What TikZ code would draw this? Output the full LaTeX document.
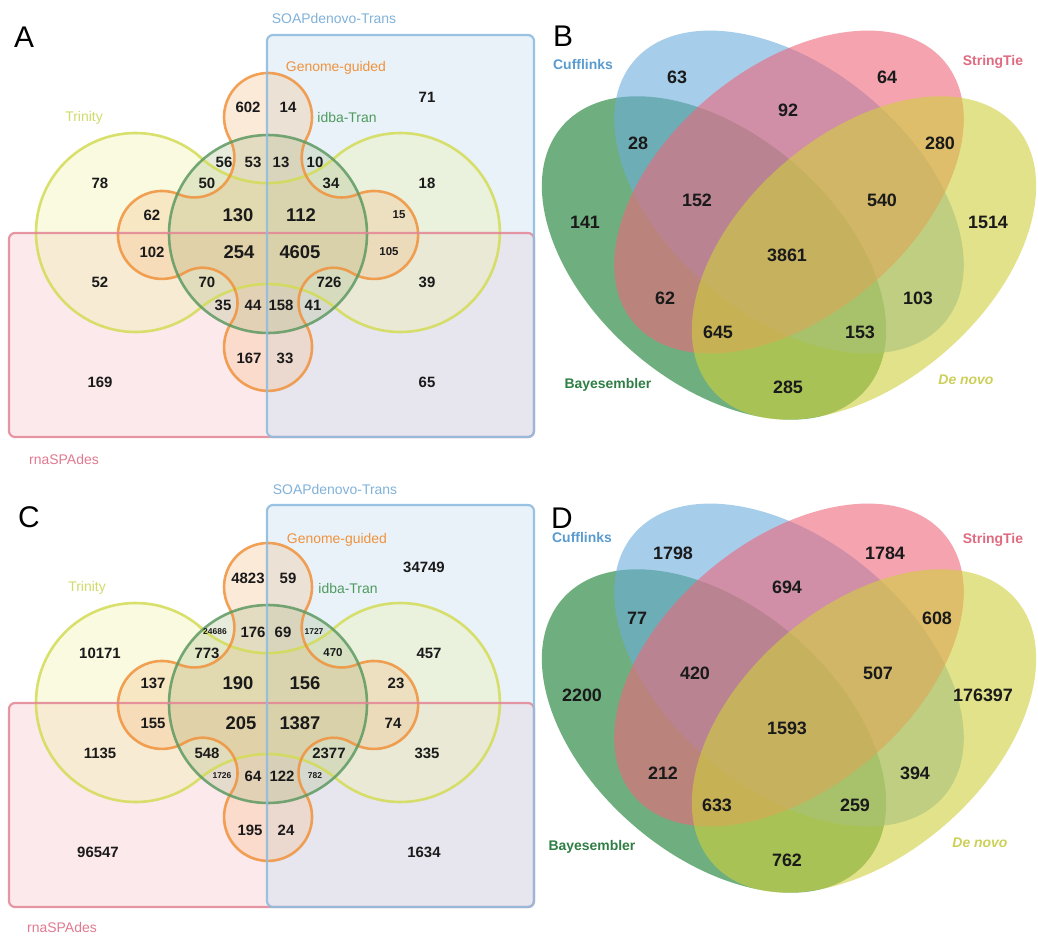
\documentclass[tikz,border=0pt]{standalone}
\usepackage{fontspec}
\setmainfont{Liberation Sans}
\definecolor{numc}{HTML}{1A1A1A}
\definecolor{trinline}{HTML}{D3DC55}
\definecolor{trinfill}{HTML}{EEF0A0}
\definecolor{genline}{HTML}{F0923C}
\definecolor{genfill}{HTML}{F7B77A}
\definecolor{idbaline}{HTML}{5E9A62}
\definecolor{idbafill}{HTML}{A8B880}
\definecolor{soapline}{HTML}{90BCDF}
\definecolor{soapfill}{HTML}{CFE3F3}
\definecolor{rnaline}{HTML}{E38595}
\definecolor{rnafill}{HTML}{F9D0D6}
\definecolor{soaptext}{HTML}{80B2DA}
\definecolor{trintext}{HTML}{D2DA6A}
\definecolor{idbatext}{HTML}{4E9A5C}
\definecolor{rnatext}{HTML}{E07A90}
\definecolor{cuffc}{HTML}{6CACDC}
\definecolor{strc}{HTML}{ED677A}
\definecolor{bayc}{HTML}{0F7B2A}
\definecolor{novoc}{HTML}{D0D03C}
\definecolor{cufftext}{HTML}{5A9BD0}
\definecolor{strtext}{HTML}{E06A80}
\definecolor{baytext}{HTML}{2F7F45}
\definecolor{novotext}{HTML}{CCD058}

% five-set layout: two quadrant boxes, the Trinity dumbbell,
% the four-lobed Genome-guided outline and the idba-Tran circle
\newcommand{\trinitypath}{(135.5,232.5) ++(-48.6:99.5)
  arc[start angle=-48.6, end angle=-309.8, radius=99.5]
  arc[start angle=230.2, end angle=309.8, radius=107.4]
  arc[start angle=129.8, end angle=-131.4, radius=99.5]
  arc[start angle=48.6, end angle=131.4, radius=101] -- cycle}
\newcommand{\genomepath}{(268,117) ++(28.8:44)
  arc[start angle=28.8, end angle=-208.8, radius=44]
  arc[start angle=-28.8, end angle=112.7, radius=40]
  arc[start angle=292.7, end angle=59.1, radius=44]
  arc[start angle=-120.9, end angle=34.0, radius=35]
  arc[start angle=214.0, end angle=-34.0, radius=44]
  arc[start angle=146.0, end angle=300.9, radius=35]
  arc[start angle=120.9, end angle=-112.7, radius=44]
  arc[start angle=67.3, end angle=208.8, radius=40] -- cycle}
\newcommand{\fivesetshapes}{%
  \fill[rnafill, fill opacity=0.45, rounded corners=6] (9,233) rectangle (534,437);
  \fill[soapfill, fill opacity=0.45, rounded corners=6] (267,35) rectangle (534,437);
  \fill[trinfill, fill opacity=0.32] \trinitypath;
  \fill[genfill, fill opacity=0.28] \genomepath;
  \fill[idbafill, fill opacity=0.28] (268,234) circle[radius=99];
  \draw[trinline, line width=2.6pt, draw opacity=0.85] \trinitypath;
  \draw[genline, line width=2.6pt, draw opacity=0.85] \genomepath;
  \draw[idbaline, line width=2.6pt, draw opacity=0.85] (268,234) circle[radius=99];
  \draw[rnaline, line width=2.2pt, draw opacity=0.85, rounded corners=6] (9,233) rectangle (534,437);
  \draw[soapline, line width=2.2pt, draw opacity=0.9, rounded corners=6] (267,35) rectangle (534,437);
}

% four-ellipse layout
\newcommand{\fourellipses}{%
  \fill[bayc, fill opacity=0.6, rotate around={-41:(714,258)}] (714,258) ellipse[x radius=201, y radius=124];
  \fill[cuffc, fill opacity=0.6, rotate around={-40:(789,192)}] (789,192) ellipse[x radius=203, y radius=124];
  \fill[strc, fill opacity=0.6, rotate around={40:(789,192)}] (789,192) ellipse[x radius=203, y radius=124];
  \fill[novoc, fill opacity=0.6, rotate around={41:(864,258)}] (864,258) ellipse[x radius=201, y radius=124];
}

\begin{document}
\begin{tikzpicture}[x=1bp, y=-1bp,
  num/.style={font=\fontsize{15}{15}\selectfont\bfseries, text=numc, inner sep=0pt},
  numbig/.style={font=\fontsize{18.5}{18.5}\selectfont\bfseries, text=numc, inner sep=0pt},
  numsmall/.style={font=\fontsize{11.5}{11.5}\selectfont\bfseries, text=numc, inner sep=0pt},
  numtiny/.style={font=\fontsize{8.5}{8.5}\selectfont\bfseries, text=numc, inner sep=0pt},
  bnum/.style={font=\fontsize{18}{18}\selectfont\bfseries, text=numc, inner sep=0pt},
  setlabel/.style={font=\fontsize{14}{14}\selectfont, inner sep=0pt},
  ellabel/.style={font=\fontsize{14}{14}\selectfont\bfseries, inner sep=0pt},
  panel/.style={font=\fontsize{30}{30}\selectfont, text=black, inner sep=0pt}]

\fill[white] (0,0) rectangle (1038,937);
\useasboundingbox (0,0) rectangle (1038,937);

% ---------------- panel A ----------------
\fivesetshapes
\node[panel] (a-letter) at (24,37) {A};
\node[setlabel, text=soaptext] (a-soap) at (334,19) {SOAPdenovo-Trans};
\node[setlabel, text=genline] (a-gen) at (336,68) {Genome-guided};
\node[setlabel, text=trintext] (a-trin) at (84,118) {Trinity};
\node[setlabel, text=idbatext] (a-idba) at (347,118) {idba-Tran};
\node[setlabel, text=rnatext] (a-rna) at (64,460) {rnaSPAdes};

\node[num] (a1) at (248,107) {602};
\node[num] (a2) at (288,107) {14};
\node[num] (a3) at (427,97) {71};
\node[num] (a4) at (224,162) {56};
\node[num] (a5) at (253,162) {53};
\node[num] (a6) at (281,162) {13};
\node[num] (a7) at (315,162) {10};
\node[num] (a8) at (100,183) {78};
\node[num] (a9) at (207,183) {50};
\node[num] (a10) at (331,183) {34};
\node[num] (a11) at (427,183) {18};
\node[num] (a12) at (152,215) {62};
\node[numbig] (a13) at (238,215) {130};
\node[numbig] (a14) at (301,215) {112};
\node[numsmall] (a15) at (399,215) {15};
\node[num] (a16) at (152,252) {102};
\node[numbig] (a17) at (239,252) {254};
\node[numbig] (a18) at (300,252) {4605};
\node[numsmall] (a19) at (389,252) {105};
\node[num] (a20) at (100,282) {52};
\node[num] (a21) at (207,282) {70};
\node[num] (a22) at (329,282) {726};
\node[num] (a23) at (427,282) {39};
\node[num] (a24) at (223,305) {35};
\node[num] (a25) at (253,305) {44};
\node[num] (a26) at (281,305) {158};
\node[num] (a27) at (313,305) {41};
\node[num] (a28) at (249,358) {167};
\node[num] (a29) at (285,358) {33};
\node[num] (a30) at (100,382) {169};
\node[num] (a31) at (427,382) {65};

% ---------------- panel C ----------------
\begin{scope}[shift={(0,470)}]
\fivesetshapes
\end{scope}
\node[panel] (c-letter) at (29,517) {C};
\node[setlabel, text=soaptext] (c-soap) at (335,490) {SOAPdenovo-Trans};
\node[setlabel, text=genline] (c-gen) at (337,540) {Genome-guided};
\node[setlabel, text=trintext] (c-trin) at (87,588) {Trinity};
\node[setlabel, text=idbatext] (c-idba) at (348,589) {idba-Tran};
\node[setlabel, text=rnatext] (c-rna) at (62,928) {rnaSPAdes};

\node[num] (c1) at (248,578) {4823};
\node[num] (c2) at (288,578) {59};
\node[num] (c3) at (424,567) {34749};
\node[numtiny] (c4) at (215,632) {24686};
\node[num] (c5) at (253,632) {176};
\node[num] (c6) at (283,632) {69};
\node[numtiny] (c7) at (314,632) {1727};
\node[num] (c8) at (100,653) {10171};
\node[num] (c9) at (207,653) {773};
\node[numsmall] (c10) at (333,653) {470};
\node[num] (c11) at (429,653) {457};
\node[num] (c12) at (153,683) {137};
\node[numbig] (c13) at (238,683) {190};
\node[numbig] (c14) at (305,683) {156};
\node[num] (c15) at (396,683) {23};
\node[num] (c16) at (153,723) {155};
\node[numbig] (c17) at (241,723) {205};
\node[numbig] (c18) at (300,723) {1387};
\node[num] (c19) at (393,723) {74};
\node[num] (c20) at (100,753) {1135};
\node[num] (c21) at (207,753) {548};
\node[num] (c22) at (329,753) {2377};
\node[num] (c23) at (427,753) {335};
\node[numtiny] (c24) at (222,776) {1726};
\node[num] (c25) at (253,776) {64};
\node[num] (c26) at (282,776) {122};
\node[numtiny] (c27) at (315,776) {782};
\node[num] (c28) at (250,830) {195};
\node[num] (c29) at (286,830) {24};
\node[num] (c30) at (98,852) {96547};
\node[num] (c31) at (424,852) {1634};

% ---------------- panel B ----------------
\fourellipses
\node[panel] (b-letter) at (563,36) {B};
\node[ellabel, text=cufftext] (b-cuff) at (583,65) {Cufflinks};
\node[ellabel, text=strtext] (b-str) at (993,62) {StringTie};
\node[ellabel, text=baytext] (b-bay) at (608,385) {Bayesembler};
\node[ellabel, text=novotext, font=\fontsize{14}{14}\selectfont\bfseries\itshape] (b-novo) at (966,380) {De novo};

\node[bnum] (b1) at (677,77) {63};
\node[bnum] (b2) at (887,77) {64};
\node[bnum] (b3) at (788,110) {92};
\node[bnum] (b4) at (638,143) {28};
\node[bnum] (b5) at (940,143) {280};
\node[bnum] (b6) at (697,200) {152};
\node[bnum] (b7) at (882,200) {540};
\node[bnum] (b8) at (585,222) {141};
\node[bnum] (b9) at (988,222) {1514};
\node[bnum] (b10) at (787,255) {3861};
\node[bnum] (b11) at (665,298) {62};
\node[bnum] (b12) at (918,298) {103};
\node[bnum] (b13) at (718,332) {645};
\node[bnum] (b14) at (860,332) {153};
\node[bnum] (b15) at (788,387) {285};

% ---------------- panel D ----------------
\begin{scope}[shift={(0,473)}]
\fourellipses
\end{scope}
\node[panel] (d-letter) at (562,518) {D};
\node[ellabel, text=cufftext] (d-cuff) at (582,538) {Cufflinks};
\node[ellabel, text=strtext] (d-str) at (993,540) {StringTie};
\node[ellabel, text=baytext] (d-bay) at (592,847) {Bayesembler};
\node[ellabel, text=novotext, font=\fontsize{14}{14}\selectfont\bfseries\itshape] (d-novo) at (980,843) {De novo};

\node[bnum] (d1) at (673,553) {1798};
\node[bnum] (d2) at (885,553) {1784};
\node[bnum] (d3) at (787,587) {694};
\node[bnum] (d4) at (637,618) {77};
\node[bnum] (d5) at (937,618) {608};
\node[bnum] (d6) at (695,673) {420};
\node[bnum] (d7) at (878,673) {507};
\node[bnum] (d8) at (582,695) {2200};
\node[bnum] (d9) at (983,695) {176397};
\node[bnum] (d10) at (787,728) {1593};
\node[bnum] (d11) at (663,773) {212};
\node[bnum] (d12) at (915,773) {394};
\node[bnum] (d13) at (717,805) {633};
\node[bnum] (d14) at (855,805) {259};
\node[bnum] (d15) at (787,860) {762};

\end{tikzpicture}
\end{document}
